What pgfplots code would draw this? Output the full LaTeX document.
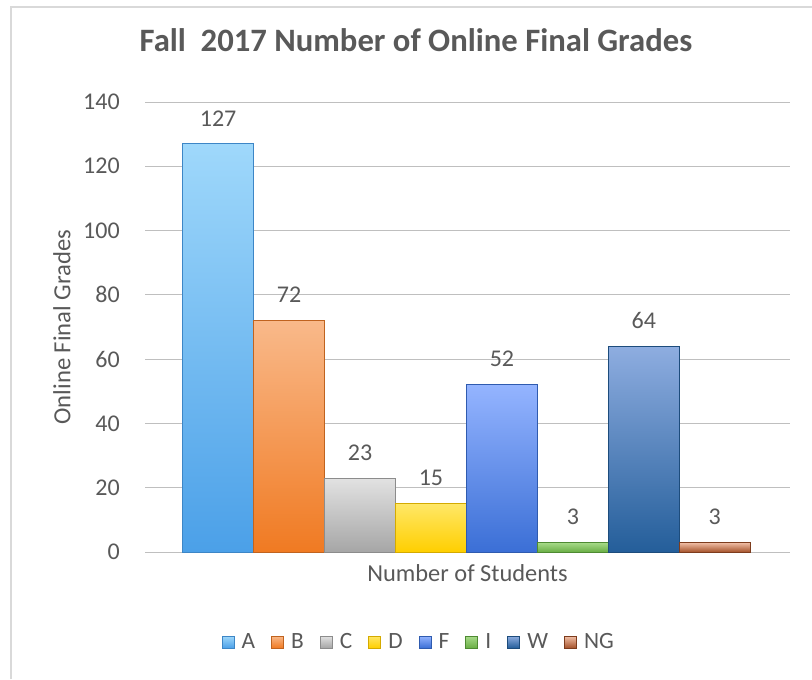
\documentclass[border=0pt]{standalone}
\usepackage{fontspec}
\setmainfont{Carlito}
\usepackage{pgfplots}
\pgfplotsset{compat=1.18}
\definecolor{txt}{HTML}{595959}
\definecolor{grid}{HTML}{D9D9D9}
\definecolor{Atop}{HTML}{9FD8FB}\definecolor{Abot}{HTML}{4BA0E8}\definecolor{Aedg}{HTML}{3D86C6}
\definecolor{Btop}{HTML}{F9B98A}\definecolor{Bbot}{HTML}{F07A22}\definecolor{Bedg}{HTML}{C0631F}
\definecolor{Ctop}{HTML}{E2E2E2}\definecolor{Cbot}{HTML}{A6A6A6}\definecolor{Cedg}{HTML}{8C8C8C}
\definecolor{Dtop}{HTML}{FFE766}\definecolor{Dbot}{HTML}{FFCF00}\definecolor{Dedg}{HTML}{D4AA00}
\definecolor{Ftop}{HTML}{94B4FF}\definecolor{Fbot}{HTML}{3B6FD6}\definecolor{Fedg}{HTML}{2F5BAF}
\definecolor{Itop}{HTML}{A8DB8A}\definecolor{Ibot}{HTML}{6AAE45}\definecolor{Iedg}{HTML}{4E8A32}
\definecolor{Wtop}{HTML}{8EADE0}\definecolor{Wbot}{HTML}{245E9A}\definecolor{Wedg}{HTML}{1D4C7C}
\definecolor{Ntop}{HTML}{F2C0A8}\definecolor{Nbot}{HTML}{A5532B}\definecolor{Nedg}{HTML}{7D3C1D}
\pgfplotsset{
  gbar/.style n args={3}{ybar, bar width=1, bar shift=0pt, draw=#3, line width=0.6pt,
     top color=#1, bottom color=#2,
     legend image code/.code={\draw[draw=#3, line width=0.5pt, top color=#1, bottom color=#2] (0pt,-4.5pt) rectangle (9pt,4.5pt);}},
}
\begin{document}
\begin{tikzpicture}
\path[use as bounding box] (0,0) rectangle (609pt,509.25pt);
\draw[grid, line width=1.5pt] (8.25pt,0pt) -- (8.25pt,504pt) -- (609pt,504pt);
\begin{axis}[
  at={(108.75pt,95.25pt)}, anchor=south west,
  scale only axis, width=483.75pt, height=337.5pt,
  xmin=-1.03, xmax=8.06, ymin=0, ymax=140,
  ytick={0,20,...,140}, xtick=\empty,
  /pgf/number format/assume math mode=true,
  ymajorgrids, major grid style={grid, line width=0.75pt},
  axis line style={draw=none}, major tick length=0pt,
  tick label style={font=\fontsize{18}{20}\selectfont, text=txt},
  yticklabel style={inner sep=0pt, xshift=-18.75pt},
  title={Fall\ \ 2017 Number of Online Final Grades},
  title style={at={(0.42,1.12)}, anchor=center, font=\bfseries\fontsize{24.5}{28}\selectfont, text=txt},
  xlabel={Number of Students},
  xlabel style={at={(0.5,-0.047)}, anchor=center, font=\fontsize{18.3}{20}\selectfont, text=txt},
  ylabel={Online Final Grades},
  ylabel style={at={(-0.1287,0.5)}, anchor=center, font=\fontsize{18.5}{20}\selectfont, text=txt},
  nodes near coords,
  nodes near coords style={font=\fontsize{18}{20}\selectfont, text=txt, anchor=south, inner sep=0pt, yshift=13pt},
  legend style={at={(0.425,-0.2)}, anchor=center, draw=none, legend columns=-1,
     font=\fontsize{17.5}{20}\selectfont, text=txt,
     /tikz/every odd column/.append style={column sep=3.5pt},
     /tikz/every even column/.append style={column sep=10pt}},
  legend cell align=left,
]
\addplot[gbar={Atop}{Abot}{Aedg}] coordinates {(0,127)};
\addplot[gbar={Btop}{Bbot}{Bedg}] coordinates {(1,72)};
\addplot[gbar={Ctop}{Cbot}{Cedg}] coordinates {(2,23)};
\addplot[gbar={Dtop}{Dbot}{Dedg}] coordinates {(3,15)};
\addplot[gbar={Ftop}{Fbot}{Fedg}] coordinates {(4,52)};
\addplot[gbar={Itop}{Ibot}{Iedg}] coordinates {(5,3)};
\addplot[gbar={Wtop}{Wbot}{Wedg}] coordinates {(6,64)};
\addplot[gbar={Ntop}{Nbot}{Nedg}] coordinates {(7,3)};
\legend{A,B,C,D,F,I,W,NG}
\end{axis}
\end{tikzpicture}
\end{document}
